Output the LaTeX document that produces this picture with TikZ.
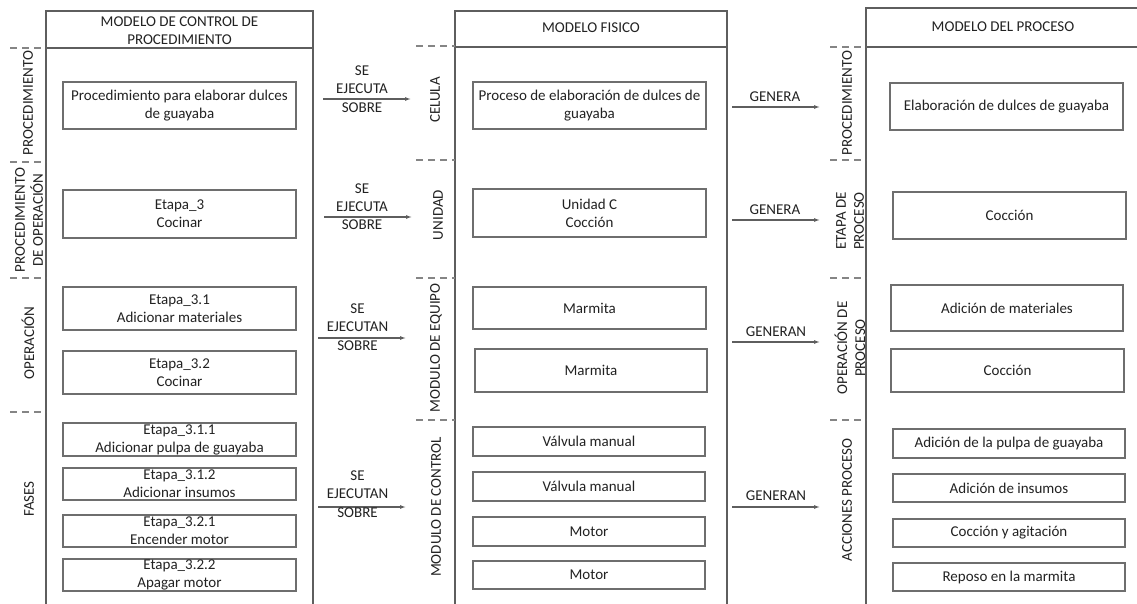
\documentclass[tikz,border=0pt]{standalone}
\usepackage{fontspec}
\setmainfont{Carlito}
\usetikzlibrary{arrows.meta}

\definecolor{ink}{HTML}{222222}
\definecolor{frame}{HTML}{5E5E5E}
\definecolor{boxline}{HTML}{6E6E6E}
\definecolor{dashgray}{HTML}{858585}

\tikzset{
  every node/.style={font=\fontsize{15}{18}\selectfont, text=ink, inner sep=0pt},
  item/.style={draw=boxline, line width=1.2pt, align=center},
  column/.style={draw=frame, line width=1.1pt},
  level/.style={rotate=90, align=center},
  rel/.style={align=center},
  levelsep/.style={draw=dashgray, line width=1.1pt, dash pattern=on 7pt off 5pt},
  conn/.style={draw=frame, line width=1.1pt, -{Latex[length=6pt,width=4pt]}},
}

\begin{document}
\begin{tikzpicture}[x=1pt,y=-1pt]
\clip (0,0) rectangle (1137,604);
\fill[white] (0,0) rectangle (1137,604);

% ---- the three model columns
\draw[column] (46,11) rectangle (313,620);
\draw[column] (46,48) -- (313,48);
\draw[column] (455,11) rectangle (727,620);
\draw[column] (455,47) -- (727,47);
\draw[column] (866,8) rectangle (1150,620);
\draw[column] (866,47) -- (1150,47);

\node[align=center] (hL) at (179.5,30.5) {MODELO DE CONTROL DE\\PROCEDIMIENTO};
\node (hM) at (591,28) {MODELO FISICO};
\node (hR) at (1003,27) {MODELO DEL PROCESO};

% ---- level separators
\foreach \yy in {48,162,278,412} \draw[levelsep] (10,\yy) -- (46,\yy);
\foreach \yy in {46,160,278,420} \draw[levelsep] (416,\yy) -- (455,\yy);
\foreach \yy in {47,160,278,420} \draw[levelsep] (830,\yy) -- (866,\yy);

% ---- level labels
\node[level] (lvL1) at (28,103) {PROCEDIMIENTO};
\node[level] (lvL2) at (29,220) {PROCEDIMIENTO\\DE OPERACIÓN};
\node[level] (lvL3) at (28,343) {OPERACIÓN};
\node[level] (lvL4) at (29,499) {FASES};

\node[level] (lvM1) at (435,100) {CELULA};
\node[level] (lvM2) at (438,215) {UNIDAD};
\node[level] (lvM3) at (436,348) {MODULO DE EQUIPO};
\node[level] (lvM4) at (436,507) {MODULO DE CONTROL};

\node[level] (lvR1) at (847,103) {PROCEDIMIENTO};
\node[level] (lvR2) at (850,221) {ETAPA DE\\PROCESO};
\node[level] (lvR3) at (850,348) {OPERACIÓN DE\\PROCESO};
\node[level] (lvR4) at (847,500) {ACCIONES PROCESO};

% ---- procedure control model
\node[item, minimum width=233pt, minimum height=47pt] (L1) at (179.5,105.5) {Procedimiento para elaborar dulces\\de guayaba};
\node[item, minimum width=233pt, minimum height=48pt] (L2) at (179.5,214) {Etapa\_3\\Cocinar};
\node[item, minimum width=233pt, minimum height=43pt] (L3) at (179.5,308.5) {Etapa\_3.1\\Adicionar materiales};
\node[item, minimum width=233pt, minimum height=43pt] (L4) at (179.5,372.5) {Etapa\_3.2\\Cocinar};
\node[item, minimum width=233pt, minimum height=33pt] (L5) at (179.5,439.5) {Etapa\_3.1.1\\Adicionar pulpa de guayaba};
\node[item, minimum width=233pt, minimum height=32pt] (L6) at (179.5,484) {Etapa\_3.1.2\\Adicionar insumos};
\node[item, minimum width=233pt, minimum height=32pt] (L7) at (179.5,531) {Etapa\_3.2.1\\Encender motor};
\node[item, minimum width=233pt, minimum height=32pt] (L8) at (179.5,575) {Etapa\_3.2.2\\Apagar motor};

% ---- physical model
\node[item, minimum width=233pt, minimum height=47pt] (M1) at (589.5,105.5) {Proceso de elaboración de dulces de\\guayaba};
\node[item, minimum width=233pt, minimum height=48pt] (M2) at (589.5,213) {Unidad C\\Cocción};
\node[item, minimum width=233pt, minimum height=42pt] (M3) at (589.5,308) {Marmita};
\node[item, minimum width=232pt, minimum height=43pt] (M4) at (591,370.5) {Marmita};
\node[item, minimum width=232pt, minimum height=29pt] (M5) at (589,441.5) {Válvula manual};
\node[item, minimum width=232pt, minimum height=29pt] (M6) at (589,486.5) {Válvula manual};
\node[item, minimum width=232pt, minimum height=29pt] (M7) at (589,531.5) {Motor};
\node[item, minimum width=232pt, minimum height=28pt] (M8) at (589,575) {Motor};

% ---- process model
\node[item, minimum width=233pt, minimum height=47pt] (R1) at (1006.5,106.5) {Elaboración de dulces de guayaba};
\node[item, minimum width=233pt, minimum height=47pt] (R2) at (1009.5,215.5) {Cocción};
\node[item, minimum width=232pt, minimum height=46pt] (R3) at (1007,308) {Adición de materiales};
\node[item, minimum width=233pt, minimum height=43pt] (R4) at (1007.5,370.5) {Cocción};
\node[item, minimum width=232pt, minimum height=29pt] (R5) at (1009,443.5) {Adición de la pulpa de guayaba};
\node[item, minimum width=232pt, minimum height=28pt] (R6) at (1009,488) {Adición de insumos};
\node[item, minimum width=232pt, minimum height=28pt] (R7) at (1009,533) {Cocción y agitación};
\node[item, minimum width=232pt, minimum height=28pt] (R8) at (1009,577) {Reposo en la marmita};

% ---- relations between the models
\coordinate (s1) at (323,99);  \coordinate (e1) at (411,99);
\coordinate (s2) at (324,217); \coordinate (e2) at (412,217);
\coordinate (s3) at (318,338); \coordinate (e3) at (406,338);
\coordinate (s4) at (318,507); \coordinate (e4) at (406,507);
\draw[conn] (s1) -- (e1);
\draw[conn] (s2) -- (e2);
\draw[conn] (s3) -- (e3);
\draw[conn] (s4) -- (e4);
\node[rel] (t1a) at (362,80) {SE\\EJECUTA};    \node (t1b) at (362,108) {SOBRE};
\node[rel] (t2a) at (362,197.5) {SE\\EJECUTA}; \node (t2b) at (362,225) {SOBRE};
\node[rel] (t3a) at (357.5,318) {SE\\EJECUTAN}; \node (t3b) at (357.5,346) {SOBRE};
\node[rel] (t4a) at (357.5,485) {SE\\EJECUTAN}; \node (t4b) at (357.5,513) {SOBRE};

\coordinate (g1s) at (732,107); \coordinate (g1e) at (820,107);
\coordinate (g2s) at (732,220); \coordinate (g2e) at (820,220);
\coordinate (g3s) at (732,342); \coordinate (g3e) at (820,342);
\coordinate (g4s) at (732,507); \coordinate (g4e) at (820,507);
\draw[conn] (g1s) -- (g1e);
\draw[conn] (g2s) -- (g2e);
\draw[conn] (g3s) -- (g3e);
\draw[conn] (g4s) -- (g4e);
\node (u1) at (775,97) {GENERA};
\node (u2) at (775,210) {GENERA};
\node (u3) at (776,332) {GENERAN};
\node (u4) at (776,496) {GENERAN};
\end{tikzpicture}
\end{document}
